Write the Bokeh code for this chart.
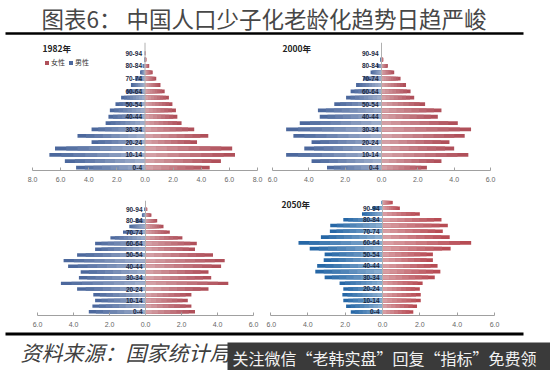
from bokeh.plotting import figure
from bokeh.layouts import column, row
from bokeh.models import (Range1d, Span, Label, BoxAnnotation, Legend, LegendItem,
                          SingleIntervalTicker, CustomJSTickFormatter, ColumnDataSource)
from bokeh.core.properties import value
from bokeh.embed import file_html
from bokeh.resources import INLINE

# ---------------- data ----------------
age_groups = ["0-4", "5-9", "10-14", "15-19", "20-24", "25-29", "30-34", "35-39",
              "40-44", "45-49", "50-54", "55-59", "60-64", "65-69", "70-74", "75-79",
              "80-84", "85-89", "90-94", "95-99"]

male_1982 = [4.9, 5.7, 6.8, 6.4, 3.8, 4.8, 3.8, 2.8, 2.6, 2.5,
             2.1, 1.7, 1.3, 1.0, 0.7, 0.35, 0.17, 0.05, 0.01, 0.0]
female_1982 = [4.6, 5.4, 6.4, 6.2, 3.7, 4.5, 3.5, 2.6, 2.3, 2.2,
               1.95, 1.7, 1.4, 1.1, 0.8, 0.55, 0.3, 0.1, 0.02, 0.0]

male_2000 = [3.0, 3.85, 5.25, 4.25, 3.85, 4.85, 5.25, 4.5, 3.4, 3.5,
             2.6, 1.95, 1.7, 1.4, 1.0, 0.6, 0.25, 0.07, 0.01, 0.0]
female_2000 = [2.5, 3.3, 4.78, 4.0, 3.74, 4.58, 4.93, 4.2, 3.1, 3.3,
               2.4, 1.8, 1.6, 1.35, 1.05, 0.7, 0.35, 0.1, 0.02, 0.0]

male_2015 = [3.15, 2.95, 2.8, 2.9, 3.8, 4.7, 3.7, 3.6, 4.3, 4.55,
             3.8, 2.8, 2.8, 1.95, 1.25, 0.9, 0.55, 0.2, 0.07, 0.01]
female_2015 = [2.75, 2.55, 2.35, 2.55, 3.5, 4.6, 3.65, 3.5, 4.2, 4.4,
               3.75, 2.75, 2.85, 2.05, 1.35, 1.0, 0.65, 0.33, 0.1, 0.02]

male_2050 = [1.7, 1.95, 2.1, 2.15, 2.1, 2.3, 3.1, 3.6, 3.5, 3.15,
             3.1, 3.9, 4.5, 3.3, 2.82, 2.8, 2.1, 1.1, 0.55, 0.05]
female_2050 = [1.65, 1.85, 2.05, 2.05, 2.0, 2.15, 2.8, 3.1, 2.95, 2.7,
               2.7, 3.65, 4.75, 3.6, 3.23, 3.5, 3.16, 2.0, 0.93, 0.55]

year_labels = ["1982年", "2000年", "2015年", "2050年"]
legend_labels = ["女性", "男性"]
title_text = "图表6：   中国人口少子化老龄化趋势日趋严峻"
source_text = "资料来源：国家统计局、恒大研究院"
banner_text = "关注微信“老韩实盘”回复“指标”免费领"

CJK = "Noto Sans CJK SC"
W, H = 550, 370


def mix(hex_color, t):
    """t = 1 -> colour, t = 0 -> white"""
    h = hex_color.lstrip("#")
    r, g, b = (int(h[i:i + 2], 16) for i in (0, 2, 4))
    r = round(255 + (r - 255) * t)
    g = round(255 + (g - 255) * t)
    b = round(255 + (b - 255) * t)
    return "#%02x%02x%02x" % (r, g, b)


def blank(w, h):
    p = figure(width=w, height=h, x_range=Range1d(0, w), y_range=Range1d(0, h),
               toolbar_location=None, output_backend="svg", min_border=0,
               x_axis_location=None, y_axis_location=None)
    p.grid.visible = False
    p.outline_line_color = None
    return p


def pyramid(year, male, female, cfg, with_legend=False):
    left, top, w, h = cfg["box"]
    fl, fr, ft, fb = cfg["frame"]
    xmax = cfg["xmax"]
    row0, sp = cfg["row0"], cfg["spacing"]
    ymin = (row0 - fb) / sp
    ymax = (row0 - ft) / sp
    p = figure(width=w, height=h,
               x_range=Range1d(-xmax, xmax), y_range=Range1d(ymin, ymax),
               toolbar_location=None, output_backend="svg",
               y_axis_location=None,
               min_border_left=fl - left, min_border_right=left + w - fr,
               min_border_top=ft - top, min_border_bottom=top + h - fb)
    p.grid.visible = False
    p.outline_line_color = None

    ax = p.xaxis[0]
    ax.ticker = SingleIntervalTicker(interval=2)
    ax.formatter = CustomJSTickFormatter(code="return Math.abs(tick).toFixed(1);")
    ax.axis_line_color = "#a0a0a0"
    ax.major_tick_line_color = "#a0a0a0"
    ax.major_tick_in = 3
    ax.major_tick_out = 0
    ax.minor_tick_line_color = None
    ax.major_label_text_font_size = "7px"
    ax.major_label_text_color = "#666666"
    ax.major_label_text_font = "Liberation Sans"
    ax.major_label_standoff = 2

    idx = list(range(len(age_groups)))
    n = 8
    m_dark, f_dark = cfg["colors"]
    dark_m = dark_f = None
    # gradient: draw the full (darkest) bar first, then shorter, lighter bars on top
    for k in reversed(range(n)):
        t = 0.5 + 0.5 * (k + 0.5) / n
        frac = (k + 1) / n
        src = ColumnDataSource(dict(
            y=idx, z=[0] * len(idx),
            ml=[-v * frac for v in male], fr=[v * frac for v in female]))
        rm = p.hbar(y="y", left="ml", right="z", height=cfg["bar_h"], source=src,
                    fill_color=mix(m_dark, t), line_color=None)
        rf = p.hbar(y="y", left="z", right="fr", height=cfg["bar_h"], source=src,
                    fill_color=mix(f_dark, t), line_color=None)
        if dark_m is None:
            dark_m, dark_f = rm, rf

    p.add_layout(Span(location=0, dimension="height", line_color="#b0b0b0", line_width=1))

    lab_src = ColumnDataSource(dict(y=idx[::2], x=[0] * len(idx[::2]), t=age_groups[::2]))
    p.text(x="x", y="y", text="t", source=lab_src, text_align="right",
           text_baseline="middle", x_offset=-3, text_font=value("Liberation Sans"),
           text_font_size="6.5px", text_font_style="bold", text_color="#1c2842")

    # year label (pixel position converted to data space)
    yx, yy = cfg["year_pos"]
    lx = -xmax + (yx - fl) / (fr - fl) * 2 * xmax
    ly = (row0 - yy) / sp
    p.add_layout(Label(x=lx, y=ly, text=year, text_baseline="middle",
                       text_font=CJK, text_font_size="8.5px", text_font_style="bold",
                       text_color="#222222"))

    if with_legend:
        lg = Legend(items=[LegendItem(label=legend_labels[0], renderers=[dark_f]),
                           LegendItem(label=legend_labels[1], renderers=[dark_m])],
                    location=(12, 103), orientation="horizontal",
                    glyph_width=5, glyph_height=5, label_height=7, label_width=10,
                    label_standoff=2, spacing=3, padding=0, margin=0,
                    label_text_font=CJK, label_text_font_size="7px",
                    label_text_color="#333333",
                    border_line_alpha=0, background_fill_alpha=0)
        p.add_layout(lg)
    return p


# panel geometry in page pixels
cfg1982 = dict(box=(0, 37, 266, 147), frame=(32, 257, 42, 173),
               xmax=8, row0=170, spacing=6.5, bar_h=0.6,
               colors=("#46639a", "#ad4a55"), year_pos=(42, 48))
cfg2000 = dict(box=(266, 37, 284, 147), frame=(272, 490, 42, 173),
               xmax=6, row0=170, spacing=6.5, bar_h=0.6,
               colors=("#46639a", "#ad4a55"), year_pos=(282, 48))
cfg2015 = dict(box=(0, 184, 266, 145), frame=(37, 253, 200, 316),
               xmax=6, row0=312.3, spacing=5.74, bar_h=0.6,
               colors=("#46639a", "#ad4a55"), year_pos=(48, 190))
cfg2050 = dict(box=(266, 184, 284, 145), frame=(270, 494, 186, 316),
               xmax=6, row0=312, spacing=6.51, bar_h=0.62,
               colors=("#1f62a3", "#b5464f"), year_pos=(281, 190))

p1982 = pyramid(year_labels[0], male_1982, female_1982, cfg1982, with_legend=True)
p2000 = pyramid(year_labels[1], male_2000, female_2000, cfg2000)
p2015 = pyramid(year_labels[2], male_2015, female_2015, cfg2015)
p2050 = pyramid(year_labels[3], male_2050, female_2050, cfg2050)

# header
HH = 37
head = blank(W, HH)
head.add_layout(Label(x=41, y=HH - 17.5, text=title_text, text_baseline="middle",
                      text_font=CJK, text_font_size="22.5px", text_color="#474747"))
head.add_layout(BoxAnnotation(left=5, right=523, top=HH - 31.7, bottom=HH - 34.3,
                              fill_color="black", fill_alpha=1, line_alpha=0))

# footer
FT = 329
FH = H - FT
foot = blank(W, FH)
foot.add_layout(BoxAnnotation(left=5, right=523, top=FH - (332 - FT),
                              bottom=FH - (335 - FT), fill_color="black", fill_alpha=1,
                              line_alpha=0))
foot.add_layout(Label(x=20, y=FH - (351 - FT), text=source_text, text_baseline="middle",
                      text_font=CJK, text_font_size="21px", text_font_style="italic",
                      text_color="#404040"))
foot.add_layout(BoxAnnotation(left=227, right=W, top=FH - (342 - FT), bottom=0,
                              fill_color="#3a3a3a", fill_alpha=1, line_alpha=0))
foot.add_layout(Label(x=232, y=FH - (357 - FT), text=banner_text, text_baseline="middle",
                      text_font=CJK, text_font_size="16px", text_color="#f2f2f2"))

layout = column(head, row(p1982, p2000), row(p2015, p2050), foot)

open("out.html", "w").write(file_html(layout, INLINE))
